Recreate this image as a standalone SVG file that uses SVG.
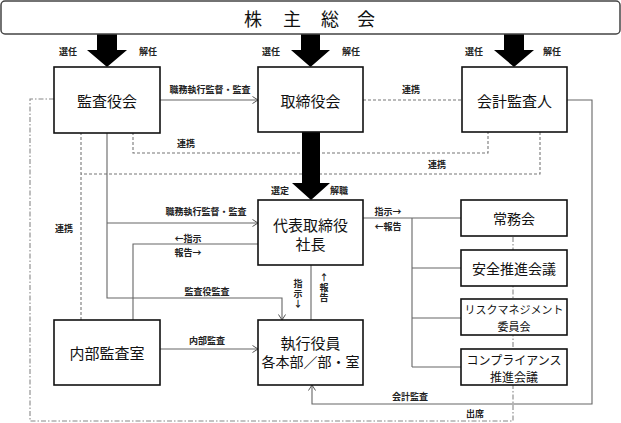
<svg xmlns="http://www.w3.org/2000/svg" width="621" height="423" viewBox="0 0 621 423">
<style>
.box{fill:#fff;stroke:#111;stroke-width:1.6}
.t{font-family:"Noto Sans CJK JP","Noto Sans",sans-serif;fill:#111;text-anchor:middle;dominant-baseline:central}
.big{font-size:15px}
.mid{font-size:14px}
.sm{font-size:9px;font-weight:bold;fill:#222}
.vt{writing-mode:vertical-rl;text-orientation:upright;text-anchor:start;letter-spacing:1px}
.ln{fill:none;stroke:#666;stroke-width:1.1}
.dash{fill:none;stroke:#777;stroke-width:1.1;stroke-dasharray:3,2}
.dd{fill:none;stroke:#888;stroke-width:1.1;stroke-dasharray:5,2,1.5,2}
.fat{fill:#000}
</style>
<defs>
<marker id="arr" markerUnits="userSpaceOnUse" markerWidth="8" markerHeight="8" refX="6" refY="4" orient="auto">
<path d="M0.5,0.5 L6,4 L0.5,7.5" fill="none" stroke="#555" stroke-width="1"/>
</marker>
</defs>

<g id="connectors">
<path class="dd" d="M54,99 H30 V421 H513 V236"/>
<path class="ln" d="M160,100 H258" marker-end="url(#arr)"/>
<path class="dash" d="M363,100 H462"/>
<path class="ln" d="M567,100 H592 V404 H312 V385" marker-end="url(#arr)"/>
<path class="dash" d="M133,132 V153 H488 V132"/>
<path class="dash" d="M540,132 V174 H81"/>
<path class="dash" d="M81,132 V320"/>
<path class="ln" d="M107,132 V298 H282 V320" marker-end="url(#arr)"/>
<path class="ln" d="M107,223 H258" marker-end="url(#arr)"/>
<path class="ln" d="M133,320 V244 H258"/>
<path class="ln" d="M160,349 H258" marker-end="url(#arr)"/>
<path class="ln" d="M311,265 V320"/>
<path class="ln" d="M363,218 H461 M412,218 V367 M412,268 H461 M412,318 H461 M412,367 H461"/>
<polygon class="fat" points="97,34 117,34 117,50 127,50 107,67 87,50 97,50"/>
<polygon class="fat" points="301,34 320,34 320,50 330,50 310.5,67 291,50 301,50"/>
<polygon class="fat" points="504,34 524,34 524,50 534,50 514,67 494,50 504,50"/>
<polygon class="fat" points="302,132 320,132 320,183 330,183 311,200 292,183 302,183"/>
</g>

<g id="labels">
<text class="t sm" x="68" y="51">選任</text>
<text class="t sm" x="148" y="51">解任</text>
<text class="t sm" x="271" y="51">選任</text>
<text class="t sm" x="351" y="51">解任</text>
<text class="t sm" x="474" y="51">選任</text>
<text class="t sm" x="552" y="51">解任</text>
<text class="t sm" x="210" y="89">職務執行監督・監査</text>
<text class="t sm" x="411" y="89">連携</text>
<text class="t sm" x="186" y="143">連携</text>
<text class="t sm" x="437" y="164">連携</text>
<text class="t sm" x="64" y="228">連携</text>
<text class="t sm" x="280" y="190">選定</text>
<text class="t sm" x="339" y="190">解職</text>
<text class="t sm" x="206" y="211">職務執行監督・監査</text>
<text class="t sm" x="188" y="238">←指示</text>
<text class="t sm" x="188" y="252">報告→</text>
<text class="t sm" x="388" y="211">指示→</text>
<text class="t sm" x="388" y="226">←報告</text>
<text class="t sm" x="207" y="291">監査役監査</text>
<text class="t sm vt" x="298" y="279">指示↓</text>
<text class="t sm vt" x="324" y="273">↑報告</text>
<text class="t sm" x="207" y="340">内部監査</text>
<text class="t sm" x="410" y="396">会計監査</text>
<text class="t sm" x="475" y="413">出席</text>
</g>

<g id="shareholders">
<rect x="1" y="1" width="619" height="33" rx="4" fill="#fff" stroke="#444" stroke-width="1.5"/>
<text class="t" style="font-size:18px" x="253" y="18">株</text>
<text class="t" style="font-size:18px" x="292" y="18">主</text>
<text class="t" style="font-size:18px" x="330" y="18">総</text>
<text class="t" style="font-size:18px" x="366" y="18">会</text>
</g>

<g id="kansayakukai">
<rect class="box" x="54" y="67" width="106" height="66"/>
<text class="t big" x="107" y="100">監査役会</text>
</g>
<g id="torishimariyakukai">
<rect class="box" x="258" y="67" width="105" height="65"/>
<text class="t big" x="310.5" y="100">取締役会</text>
</g>
<g id="kaikeikansanin">
<rect class="box" x="462" y="67" width="105" height="65"/>
<text class="t big" x="514.5" y="100">会計監査人</text>
</g>
<g id="shacho">
<rect class="box" x="258" y="200" width="105" height="65"/>
<text class="t big" x="310.5" y="224">代表取締役</text>
<text class="t big" x="310.5" y="243">社長</text>
</g>
<g id="naibukansashitsu">
<rect class="box" x="54" y="320" width="106" height="65"/>
<text class="t big" x="107" y="352">内部監査室</text>
</g>
<g id="shikkoyakuin">
<rect class="box" x="258" y="320" width="105" height="65"/>
<text class="t big" x="310.5" y="342">執行役員</text>
<text class="t mid" x="310.5" y="361">各本部／部・室</text>
</g>
<g id="jomukai">
<rect class="box" x="461" y="200" width="106" height="36"/>
<text class="t mid" x="514" y="218">常務会</text>
</g>
<g id="anzen">
<rect class="box" x="461" y="250" width="106" height="36"/>
<text class="t mid" x="514" y="268">安全推進会議</text>
</g>
<g id="risk">
<rect class="box" x="461" y="299" width="106" height="36"/>
<text class="t" style="font-size:11px" x="514" y="309">リスクマネジメント</text>
<text class="t" style="font-size:11px" x="514" y="326">委員会</text>
</g>
<g id="compliance">
<rect class="box" x="461" y="349" width="106" height="36"/>
<text class="t" style="font-size:12px" x="514" y="359">コンプライアンス</text>
<text class="t" style="font-size:12px" x="514" y="376">推進会議</text>
</g>
</svg>
